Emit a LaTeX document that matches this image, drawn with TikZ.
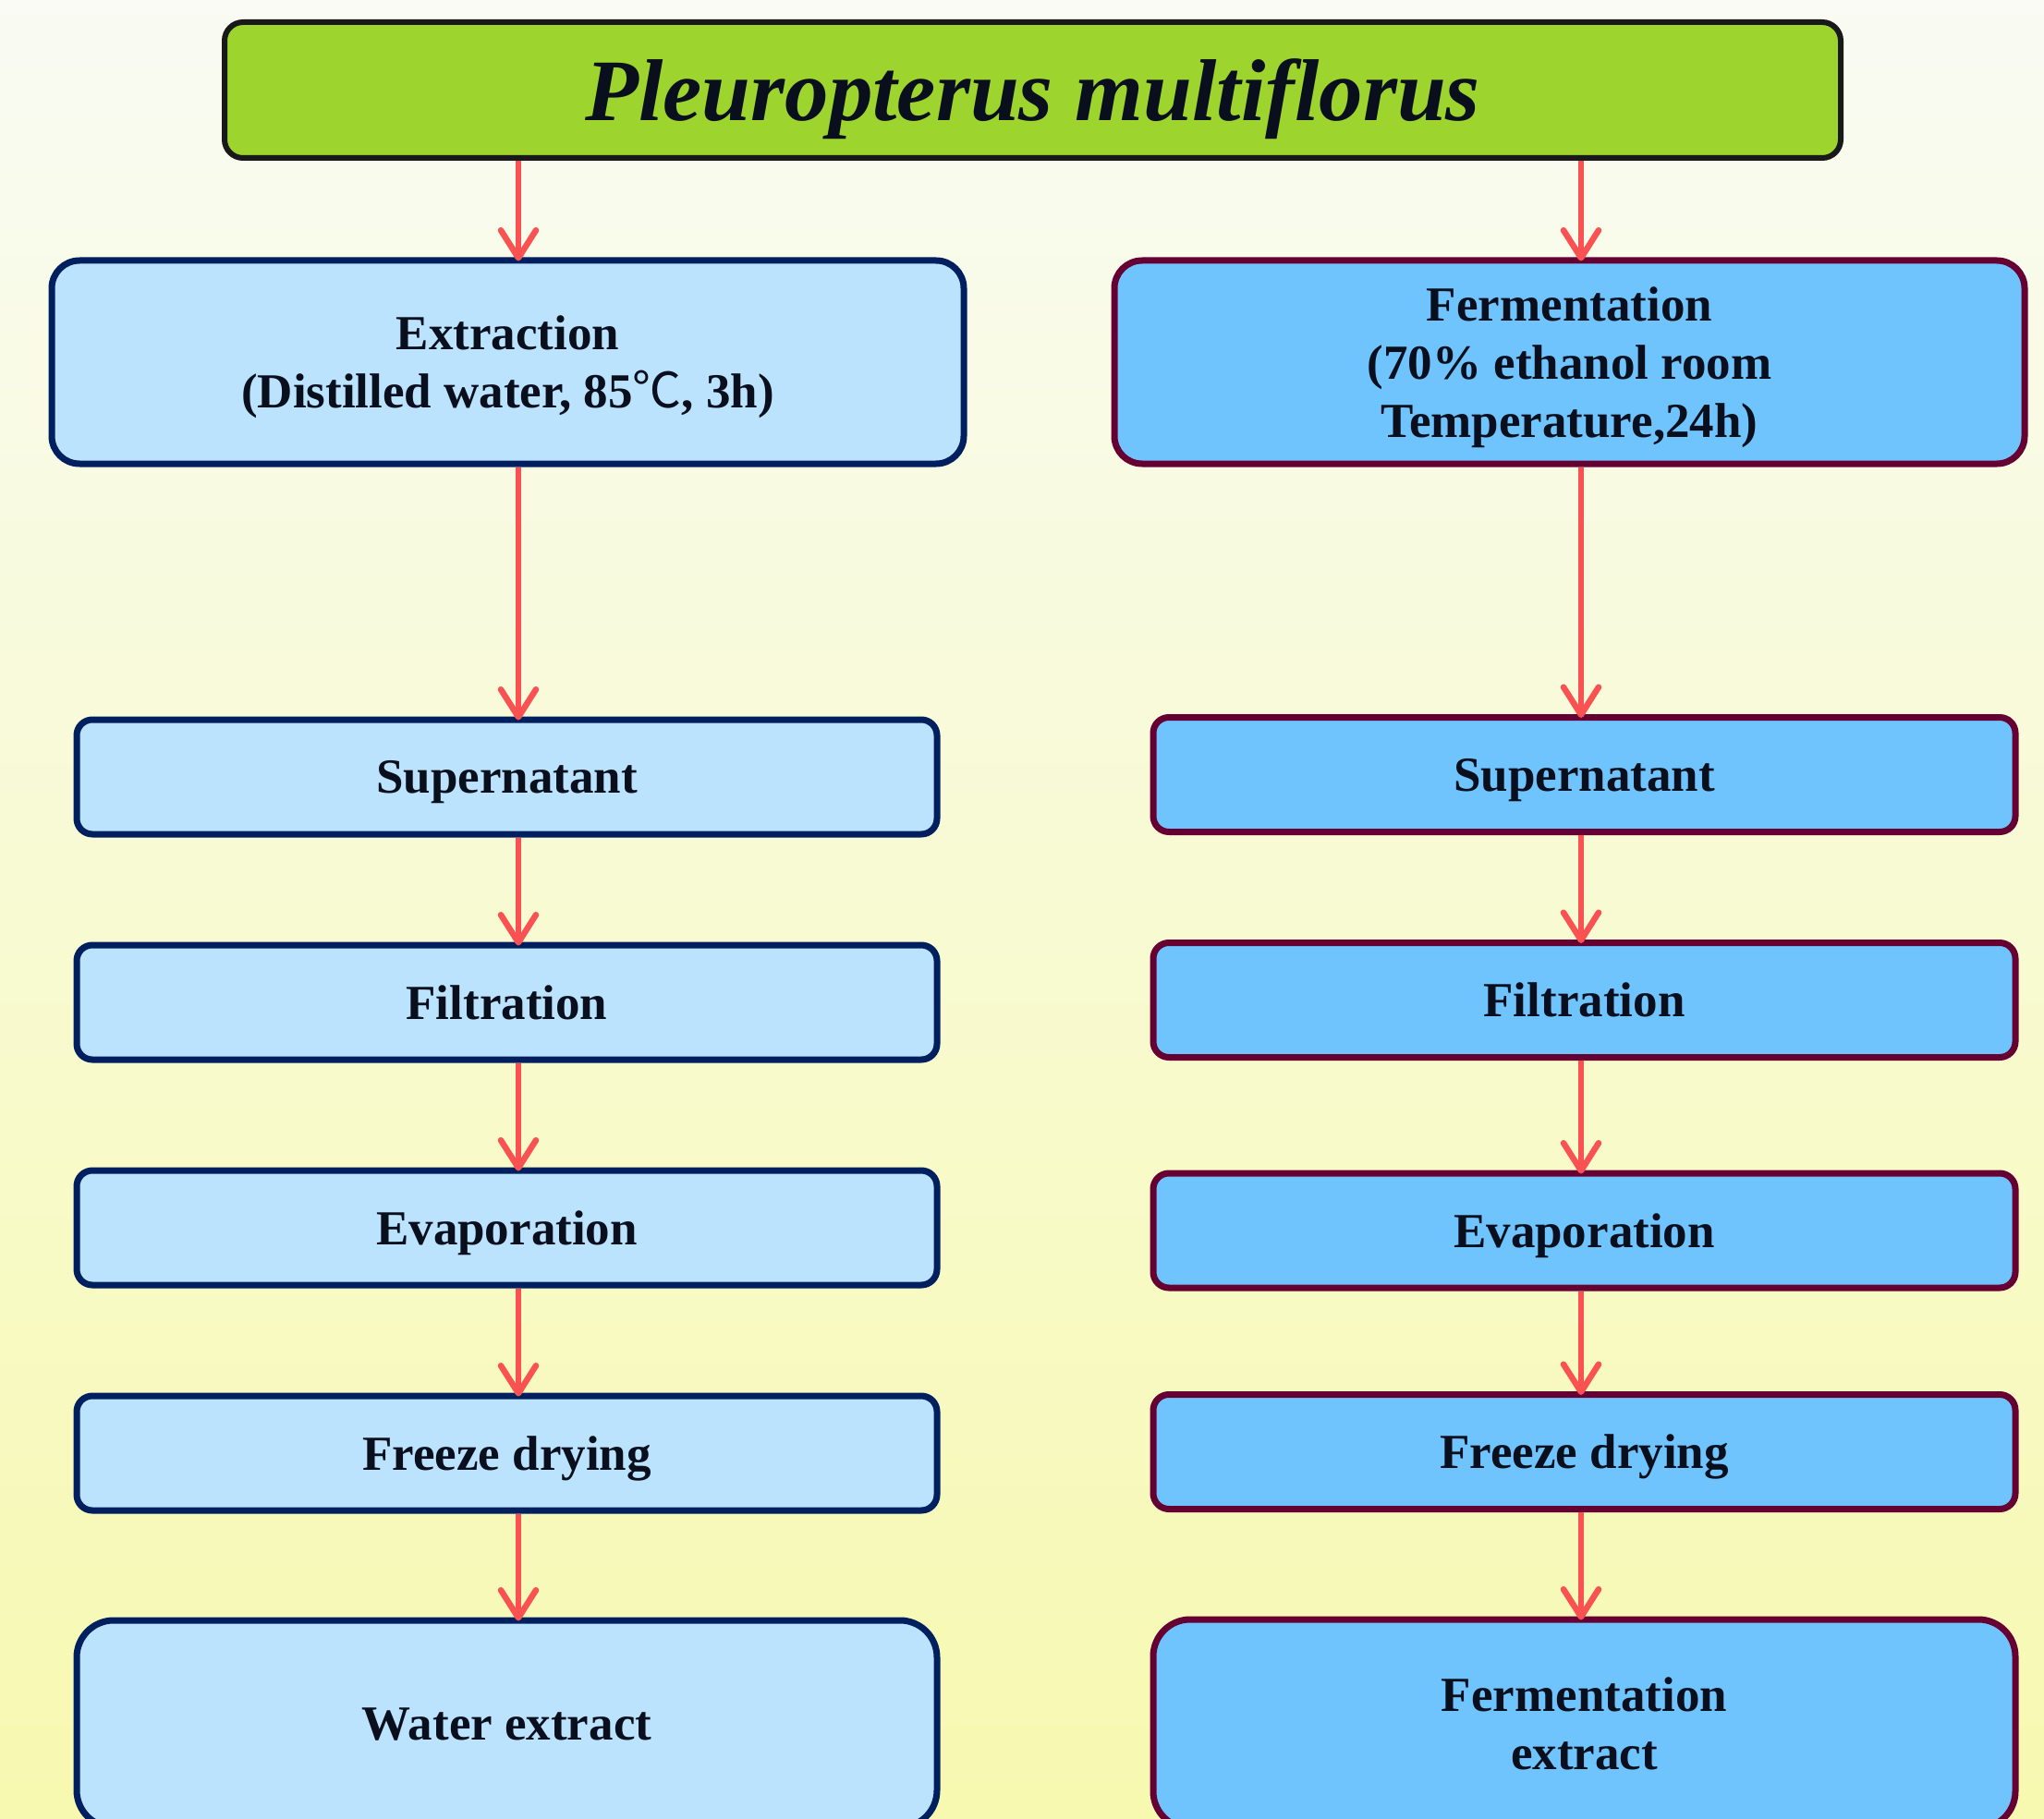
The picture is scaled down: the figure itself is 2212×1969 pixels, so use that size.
\documentclass[tikz,border=0pt]{standalone}
\usepackage{fontspec}
\setmainfont{Liberation Serif}
\newfontfamily\cjkf{Noto Sans CJK SC}
\usetikzlibrary{arrows.meta}
\definecolor{bgtop}{HTML}{F9FBF4}
\definecolor{bgbot}{HTML}{F7F9B0}
\definecolor{titlefill}{HTML}{9ED42E}
\definecolor{lfill}{HTML}{BBE3FE}
\definecolor{ldraw}{HTML}{001F5F}
\definecolor{rfill}{HTML}{6FC4FE}
\definecolor{rdraw}{HTML}{660033}
\definecolor{arrc}{HTML}{FA5252}
\definecolor{txt}{HTML}{0A0F1E}
\tikzset{
  basebox/.style={rectangle, line width=7pt, align=center, text=txt, text depth=0pt,
    font=\bfseries\fontsize{53}{63}\selectfont, inner sep=0pt},
  lbox/.style={basebox, draw=ldraw, fill=lfill},
  rbox/.style={basebox, draw=rdraw, fill=rfill},
  small/.style={rounded corners=17pt, minimum height=124pt},
  arr/.style={draw=arrc, line width=6.5pt, -{Straight Barb[length=30pt,width=38pt,round]}}
}
\begin{document}
\begin{tikzpicture}[x=1pt,y=-1pt]
\useasboundingbox (0,0) rectangle (2212,1969);
\clip (0,0) rectangle (2212,1969);
\shade[top color=bgtop, bottom color=bgbot, middle color={bgtop!50!bgbot}] (0,0) rectangle (2212,1969);

\node[rectangle, draw=black!90, line width=6pt, fill=titlefill, rounded corners=20pt,
  minimum width=1749pt, minimum height=147pt, text=txt, text depth=0pt, inner sep=0pt,
  font=\bfseries\itshape\fontsize{95}{100}\selectfont] (title) at (1117.5,97.5) {Pleuropterus multiflorus};

% left column
\node[lbox, rounded corners=30pt, minimum width=987pt, minimum height=220pt] (ext) at (549.5,392)
  {Extraction\\(Distilled water, 85{\cjkf\mdseries ℃}, 3h)};
\node[lbox, small, minimum width=931pt] (supL) at (548.5,841) {Supernatant};
\node[lbox, small, minimum width=931pt] (filL) at (548.5,1085) {Filtration};
\node[lbox, small, minimum width=931pt] (evaL) at (548.5,1329) {Evaporation};
\node[lbox, small, minimum width=931pt] (frzL) at (548.5,1573) {Freeze drying};
\node[lbox, rounded corners=40pt, minimum width=931pt, minimum height=224pt] (watL) at (548.5,1866) {Water extract};

% right column
\node[rbox, rounded corners=30pt, minimum width=985pt, minimum height=220pt] (fer) at (1698.5,392)
  {Fermentation\\(70\% ethanol room\\Temperature,24h)};
\node[rbox, small, minimum width=933pt] (supR) at (1714.5,838.5) {Supernatant};
\node[rbox, small, minimum width=933pt] (filR) at (1714.5,1082.5) {Filtration};
\node[rbox, small, minimum width=933pt] (evaR) at (1714.5,1332) {Evaporation};
\node[rbox, small, minimum width=933pt] (frzR) at (1714.5,1571.5) {Freeze drying};
\node[rbox, rounded corners=40pt, minimum width=933pt, minimum height=226pt] (ferE) at (1714.5,1866) {Fermentation\\extract};

\coordinate (la) at (561,0);
\coordinate (ra) at (1711,0);

\draw[arr] (title.south -| la) -- ([yshift=-4pt]ext.north -| la);
\draw[arr] (ext.south -| la) -- ([yshift=-4pt]supL.north -| la);
\draw[arr] (supL.south -| la) -- ([yshift=-4pt]filL.north -| la);
\draw[arr] (filL.south -| la) -- ([yshift=-4pt]evaL.north -| la);
\draw[arr] (evaL.south -| la) -- ([yshift=-4pt]frzL.north -| la);
\draw[arr] (frzL.south -| la) -- ([yshift=-4pt]watL.north -| la);

\draw[arr] (title.south -| ra) -- ([yshift=-4pt]fer.north -| ra);
\draw[arr] (fer.south -| ra) -- ([yshift=-4pt]supR.north -| ra);
\draw[arr] (supR.south -| ra) -- ([yshift=-4pt]filR.north -| ra);
\draw[arr] (filR.south -| ra) -- ([yshift=-4pt]evaR.north -| ra);
\draw[arr] (evaR.south -| ra) -- ([yshift=-4pt]frzR.north -| ra);
\draw[arr] (frzR.south -| ra) -- ([yshift=-4pt]ferE.north -| ra);
\end{tikzpicture}
\end{document}
